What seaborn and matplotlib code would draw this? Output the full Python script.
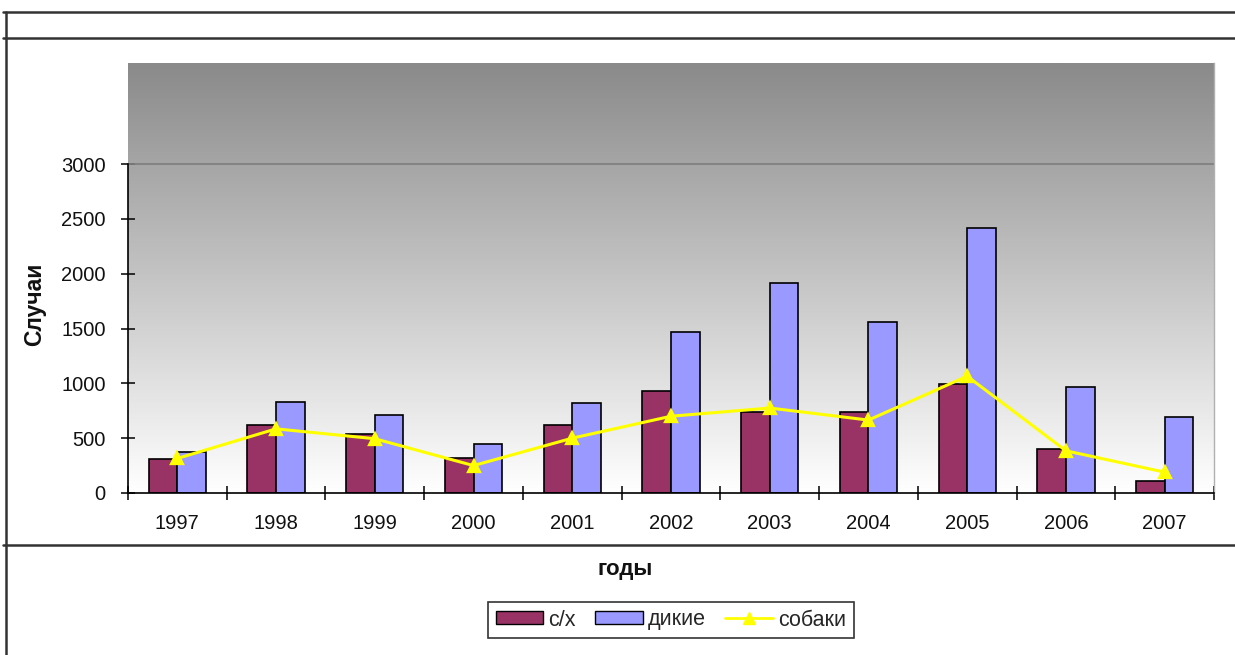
import numpy as np
import pandas as pd
import matplotlib
matplotlib.use("Agg")
import matplotlib.pyplot as plt
import seaborn as sns
from matplotlib.colors import LinearSegmentedColormap
from matplotlib.lines import Line2D
from matplotlib.patches import Patch

# ---- data ----
years = ["1997", "1998", "1999", "2000", "2001", "2002", "2003", "2004", "2005", "2006", "2007"]
farm = [310, 620, 540, 320, 618, 928, 740, 740, 992, 400, 107]          # с/х
wild = [371, 833, 709, 447, 818, 1466, 1919, 1560, 2415, 970, 693]      # дикие
dogs = [315, 585, 495, 250, 500, 700, 775, 665, 1065, 385, 190]         # собаки
series_names = ["с/х", "дикие", "собаки"]
y_ticks = [0, 500, 1000, 1500, 2000, 2500, 3000]
y_label = "Случаи"
x_label = "годы"

c_farm = "#993366"
c_wild = "#9999FF"
c_dogs = "#FFFF00"

sns.set_theme(style="white")
plt.rcParams['font.family'] = ['Liberation Sans', 'DejaVu Sans']

W, H = 1235, 655
fig = plt.figure(figsize=(W / 100, H / 100), dpi=100)
fig.patch.set_facecolor("white")

ax_l, ax_r, ax_t, ax_b = 128, 1214, 63, 493
ax = fig.add_axes([ax_l / W, 1 - ax_b / H, (ax_r - ax_l) / W, (ax_b - ax_t) / H])

ymax = (ax_b - ax_t) / ((ax_b - 164) / 3000.0)

# gradient background
cmap = LinearSegmentedColormap.from_list("g", ["#8a8a8a", "#ffffff"])
grad = np.linspace(0, 1, 256).reshape(-1, 1)
ax.imshow(grad, extent=[-0.5, len(years) - 0.5, 0, ymax], aspect="auto",
          cmap=cmap, origin="upper", zorder=0)
ax.axhline(3000, color="#808080", lw=1.3, zorder=1)

df = pd.DataFrame({
    "year": years * 2,
    "value": farm + wild,
    "kind": [series_names[0]] * len(years) + [series_names[1]] * len(years),
})
sns.barplot(data=df, x="year", y="value", hue="kind", order=years,
            hue_order=series_names[:2],
            palette={series_names[0]: c_farm, series_names[1]: c_wild},
            saturation=1, width=0.58, gap=0, edgecolor="black", linewidth=1.2,
            legend=False, ax=ax, zorder=2)

dogs_df = pd.DataFrame({"year": years, "value": dogs})
sns.pointplot(data=dogs_df, x="year", y="value", order=years, color=c_dogs,
              markers="^", linestyles="-", errorbar=None, ax=ax,
              markersize=9, linewidth=2.2, zorder=4)

ax.set_xlim(-0.5, len(years) - 0.5)
ax.set_ylim(0, ymax)
ax.set_xlabel("")
ax.set_ylabel("")
ax.set_yticks(y_ticks)
ax.set_yticklabels([str(t) for t in y_ticks])
ax.set_xticks(range(len(years)))
ax.set_xticklabels(years)
ax.set_xticks(np.arange(-0.5, len(years), 1.0), minor=True)

ax.tick_params(axis="y", which="major", direction="inout", length=10, width=1.1,
               left=True, color="black", labelsize=14.5, pad=11, labelcolor="#111111")
ax.tick_params(axis="x", which="major", length=0, labelsize=14.5, pad=15,
               labelcolor="#111111")
ax.tick_params(axis="x", which="minor", direction="inout", length=10, width=1.1,
               bottom=True, color="black")

for s in ["left", "bottom"]:
    ax.spines[s].set_color("black")
    ax.spines[s].set_linewidth(1.2)
ax.spines["left"].set_bounds(0, 3000)
ax.spines["top"].set_visible(False)
ax.spines["right"].set_color("#b0b0b0")
ax.spines["right"].set_linewidth(1.0)
ax.grid(False)

fig.text(35 / W, 1 - 304 / H, y_label, rotation=90, ha="center", va="center",
         fontsize=16.5, fontweight="bold", color="#111111")
fig.text(625 / W, 1 - 570 / H, x_label, ha="center", va="center",
         fontsize=16, fontweight="bold", color="#111111")

handles = [
    Patch(facecolor=c_farm, edgecolor="black", linewidth=1.0),
    Patch(facecolor=c_wild, edgecolor="black", linewidth=1.0),
    Line2D([], [], color=c_dogs, marker="^", lw=2, markersize=8),
]
leg = fig.legend(handles, series_names, loc="center",
                 bbox_to_anchor=(671 / W, 1 - 620 / H), ncol=3, frameon=True,
                 fancybox=False, shadow=False, edgecolor="black", fontsize=15.5,
                 handlelength=2.2, handleheight=0.55, columnspacing=0.9,
                 handletextpad=0.25, borderpad=0.35, borderaxespad=0)
leg.get_frame().set_linewidth(1.2)

# frame lines
def hline(y, x0=3, x1=W, lw=1.8):
    fig.add_artist(Line2D([x0 / W, x1 / W], [1 - y / H, 1 - y / H],
                          transform=fig.transFigure, color="#333333", lw=lw))

hline(12)
hline(38)
hline(545)
fig.add_artist(Line2D([6 / W, 6 / W], [1 - 12 / H, 0], transform=fig.transFigure,
                      color="#333333", lw=1.8))

fig.savefig("out.png", dpi=100)
